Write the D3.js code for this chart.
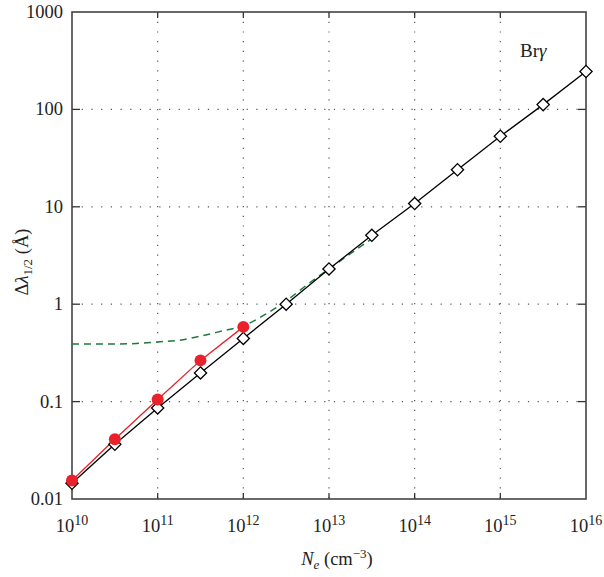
<!DOCTYPE html>
<html><head><meta charset="utf-8">
<script src="https://cdn.jsdelivr.net/npm/d3@7"></script>
<style>body{margin:0;background:#fff}svg{display:block}text{font-family:"Liberation Serif","DejaVu Serif",serif;fill:#222}</style>
</head><body><svg id="c" width="604" height="577"></svg>
<script>
// Data (x = log10 N_e)
const diamondX = [10,10.5,11,11.5,12,12.5,13,13.5,14,14.5,15,15.5,16];
const diamondY = [0.0145,0.0365,0.086,0.197,0.445,1.0,2.3,5.1,10.8,24,53,112,245];
const redX = [10,10.5,11,11.5,12];
const redY = [0.0155,0.041,0.105,0.265,0.585];
const greenX = [10,10.5,10.75,11,11.25,11.5,11.75,12,12.25,12.5,12.75,13,13.25,13.5];
const greenY = [0.39,0.39,0.395,0.41,0.425,0.47,0.53,0.6,0.78,1.08,1.6,2.3,3.3,4.7];
const xTicks = [10,11,12,13,14,15,16];
const yTicks = [0.01,0.1,1,10,100,1000];
const yTickLabels = ["0.01","0.1","1","10","100","1000"];

const svg = d3.select("#c");
const L=72,R=586,T=12,B=499;
const x = d3.scaleLinear().domain([10,16]).range([L,R]);
const y = d3.scaleLog().domain([0.01,1000]).range([B,T]);

// grid
const g = svg.append("g");
g.selectAll(".vg").data(xTicks.slice(1,-1)).join("line")
 .attr("x1",d=>x(d)).attr("x2",d=>x(d)).attr("y1",T).attr("y2",B)
 .attr("stroke","#555").attr("stroke-width",1.2).attr("stroke-dasharray","1.2,8.5");
g.selectAll(".hg").data(yTicks.slice(1,-1)).join("line")
 .attr("y1",d=>y(d)).attr("y2",d=>y(d)).attr("x1",L).attr("x2",R)
 .attr("stroke","#555").attr("stroke-width",1.2).attr("stroke-dasharray","1.2,8.5");

// ticks inward
const tk = svg.append("g").attr("stroke","#333").attr("stroke-width",1.3);
xTicks.slice(1,-1).forEach(d=>{
  tk.append("line").attr("x1",x(d)).attr("x2",x(d)).attr("y1",B).attr("y2",B-6);
  tk.append("line").attr("x1",x(d)).attr("x2",x(d)).attr("y1",T).attr("y2",T+6);
});
yTicks.slice(1,-1).forEach(d=>{
  tk.append("line").attr("y1",y(d)).attr("y2",y(d)).attr("x1",L).attr("x2",L+8);
  tk.append("line").attr("y1",y(d)).attr("y2",y(d)).attr("x1",R).attr("x2",R-8);
});

// frame
svg.append("rect").attr("x",L).attr("y",T).attr("width",R-L).attr("height",B-T)
 .attr("fill","none").attr("stroke","#444").attr("stroke-width",1.6);

// lines
const line = d3.line().x(d=>x(d[0])).y(d=>y(d[1]));
const gline = d3.line().x(d=>x(d[0])).y(d=>y(d[1])).curve(d3.curveMonotoneX);
svg.append("path").datum(greenX.map((v,i)=>[v,greenY[i]])).attr("d",gline)
 .attr("fill","none").attr("stroke","#1e7a3c").attr("stroke-width",1.5).attr("stroke-dasharray","7,5");
svg.append("path").datum(diamondX.map((v,i)=>[v,diamondY[i]])).attr("d",line)
 .attr("fill","none").attr("stroke","#000").attr("stroke-width",1.3);
svg.append("path").datum(redX.map((v,i)=>[v,redY[i]])).attr("d",line)
 .attr("fill","none").attr("stroke","#e8212a").attr("stroke-width",1.3);

// markers
svg.selectAll(".dm").data(diamondX.map((v,i)=>[v,diamondY[i]])).join("path")
 .attr("d",d3.symbol().type(d3.symbolDiamond2).size(95)())
 .attr("transform",d=>`translate(${x(d[0])},${y(d[1])})`)
 .attr("fill","#fff").attr("stroke","#000").attr("stroke-width",1.3);
svg.selectAll(".rc").data(redX.map((v,i)=>[v,redY[i]])).join("circle")
 .attr("cx",d=>x(d[0])).attr("cy",d=>y(d[1])).attr("r",6)
 .attr("fill","#e8212a");

// tick labels
svg.selectAll(".yl").data(yTicks).join("text")
 .attr("x",L-9).attr("y",d=>y(d)+6).attr("text-anchor","end")
 .attr("font-size",18.5).text((d,i)=>yTickLabels[i]);
const xl = svg.selectAll(".xl").data(xTicks).join("text")
 .attr("x",d=>x(d)).attr("y",532).attr("text-anchor","middle").attr("font-size",18.5);
xl.append("tspan").text("10");
xl.append("tspan").attr("dy",-7).attr("font-size",14).text(d=>d);

// axis titles
const xt = svg.append("text").attr("x",337).attr("y",565).attr("text-anchor","middle").attr("font-size",18.5);
xt.append("tspan").attr("font-style","italic").text("N");
xt.append("tspan").attr("font-style","italic").attr("font-size",13).attr("dy",4).text("e");
xt.append("tspan").attr("dy",-4).text("\u00a0(cm");
xt.append("tspan").attr("dy",-7).attr("font-size",13).text("\u22123");
xt.append("tspan").attr("dy",7).text(")");

const yt = svg.append("text").attr("transform","translate(28,262) rotate(-90)").attr("text-anchor","middle").attr("font-size",18.5);
yt.append("tspan").text("\u0394");
yt.append("tspan").attr("font-style","italic").text("\u03bb");
yt.append("tspan").attr("font-size",13).attr("dy",4).text("1/2");
yt.append("tspan").attr("dy",-4).text("\u00a0(\u00c5)");

const br = svg.append("text").attr("x",520).attr("y",57).attr("font-size",19);
br.append("tspan").text("Br");
br.append("tspan").attr("font-style","italic").text("\u03b3");
</script></body></html>
